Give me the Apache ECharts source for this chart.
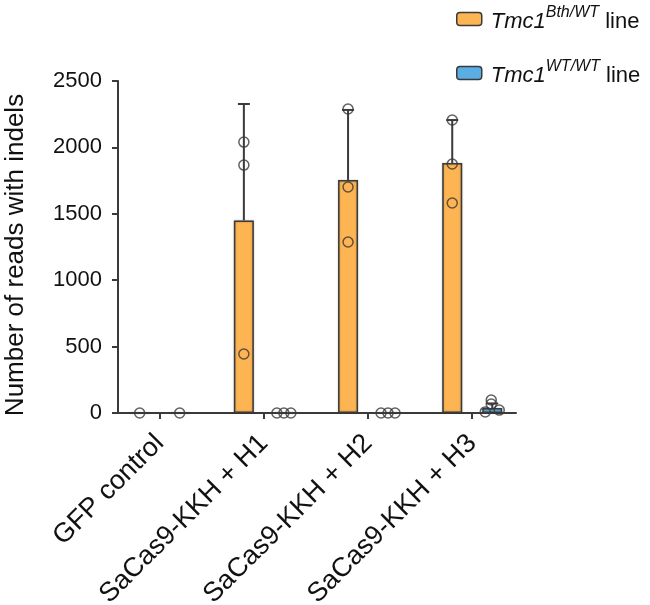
<!DOCTYPE html>
<html>
<head>
<meta charset="utf-8">
<script src="https://cdn.jsdelivr.net/npm/echarts@6/dist/echarts.min.js"></script>
<style>html,body{margin:0;padding:0;background:#fff}#c{width:650px;height:605px}</style>
</head>
<body>
<div id="c"></div>
<script>
// ---- data ----
const categories = ['GFP control', 'SaCas9-KKH + H1', 'SaCas9-KKH + H2', 'SaCas9-KKH + H3'];
const yTicks = [0, 500, 1000, 1500, 2000, 2500];
const bthMeans = [0, 1450, 1755, 1883];
const bthErrTop = [0, 2327, 2282, 2206];
const bthPoints = [[0], [2040, 1867, 444], [2289, 1702, 1288], [2206, 1875, 1581]];
const wtMeans = [0, 2, 2, 38];
const wtErrTop = [0, 2, 2, 72];
const wtPoints = [[0], [0, 0, 0], [0, 0, 0], [8, 98, 68, 22]];

// ---- styling / layout ----
const FONT = 'Liberation Sans, Arial, Helvetica, sans-serif';
const ORANGE = '#FDB452';
const BLUE = '#5AAEE3';
const DARK = '#3a3a3a';
const OFF = 0.192;               // half spacing between the two bars of a group (axis units)
const wtJitter = [[0], [-7, 0, 7], [-7, 0, 7], [-7, -1, -1, 7]];

function barData(vals, off) { return vals.map((v, i) => [i + off, v]); }
function errData(means, tops, off) { return means.map((m, i) => [i + off, m, tops[i]]); }
function ptData(pts, off, jit) {
  const out = [];
  pts.forEach((arr, i) => arr.forEach((v, k) => {
    out.push({ value: [i + off, v], symbolOffset: [jit ? jit[i][k] : 0, 0] });
  }));
  return out;
}
function errRender(params, api) {
  const x = api.value(0), y0 = api.value(1), y1 = api.value(2);
  if (!(y1 > y0 + 1)) return null;
  const p0 = api.coord([x, y0]);
  const p1 = api.coord([x, y1]);
  const st = { stroke: DARK, lineWidth: 2 };
  return {
    type: 'group',
    children: [
      { type: 'line', shape: { x1: p0[0], y1: p0[1], x2: p1[0], y2: p1[1] }, style: st },
      { type: 'line', shape: { x1: p1[0] - 6, y1: p1[1], x2: p1[0] + 6, y2: p1[1] }, style: st }
    ]
  };
}

const legendRich = {
  i: { fontFamily: FONT, fontStyle: 'italic', fontSize: 22, color: '#111', lineHeight: 28, verticalAlign: 'bottom' },
  s: { fontFamily: FONT, fontStyle: 'italic', fontSize: 16, color: '#111', lineHeight: 16, verticalAlign: 'top' },
  n: { fontFamily: FONT, fontSize: 22, color: '#111', lineHeight: 28, verticalAlign: 'bottom' }
};

const chart = echarts.init(document.getElementById('c'), null, { renderer: 'canvas' });
chart.setOption({
  animation: false,
  backgroundColor: '#fff',
  grid: { left: 118, top: 81, width: 398, height: 332, containLabel: false, outerBoundsMode: 'none' },
  legend: {
    orient: 'vertical',
    left: 456, top: 5, padding: 0,
    itemWidth: 25, itemHeight: 13, itemGap: 26,
    data: ['Bth', 'WT'],
    formatter: function (name) {
      return name === 'Bth' ? '{i|Tmc1}{s|Bth/WT}{n| line}' : '{i|Tmc1}{s|WT/WT}{n| line}';
    },
    textStyle: { rich: legendRich, padding: [0, 0, 0, 4] },
    itemStyle: { borderColor: DARK, borderWidth: 1.5 }
  },
  xAxis: {
    type: 'value', min: -0.4, max: 3.42,
    splitLine: { show: false },
    axisLine: { show: true, onZero: false, lineStyle: { color: DARK, width: 2 } },
    axisTick: { show: true, customValues: [0, 1, 2, 3], length: 6, lineStyle: { color: DARK, width: 2 } },
    axisLabel: {
      customValues: [0, 1, 2, 3], rotate: 45, margin: 26,
      fontFamily: FONT, fontSize: 27, color: '#111',
      formatter: v => categories[Math.round(v)]
    }
  },
  yAxis: {
    type: 'value', min: 0, max: 2500, interval: 500,
    name: 'Number of reads with indels', nameLocation: 'middle', nameGap: 89,
    nameTextStyle: { fontFamily: FONT, fontSize: 26, color: '#111', padding: [0, 16, 0, 0] },
    splitLine: { show: false },
    axisLine: { show: true, onZero: false, lineStyle: { color: DARK, width: 2 } },
    axisTick: { show: true, length: 6, lineStyle: { color: DARK, width: 2 } },
    axisLabel: { fontFamily: FONT, fontSize: 22, color: '#111', margin: 16,
      formatter: v => String(yTicks[yTicks.indexOf(v)]) }
  },
  series: [
    {
      name: 'Bth', type: 'bar', barWidth: 20, z: 2,
      data: barData(bthMeans, -OFF),
      itemStyle: { color: ORANGE, borderColor: DARK, borderWidth: 1.5, shadowColor: 'rgba(0,0,0,0.25)', shadowBlur: 2 }
    },
    {
      name: 'WT', type: 'bar', barWidth: 20, z: 2, barGap: '-100%',
      data: barData(wtMeans, OFF),
      itemStyle: { color: BLUE, borderColor: DARK, borderWidth: 1.5, shadowColor: 'rgba(0,0,0,0.25)', shadowBlur: 2 }
    },
    { type: 'custom', renderItem: errRender, data: errData(bthMeans, bthErrTop, -OFF), z: 3, silent: true },
    { type: 'custom', renderItem: errRender, data: errData(wtMeans, wtErrTop, OFF), z: 3, silent: true },
    {
      type: 'scatter', symbol: 'circle', symbolSize: 10, z: 4,
      data: ptData(bthPoints, -OFF, null),
      itemStyle: { color: 'rgba(255,255,255,0)', borderColor: DARK, borderWidth: 1.5 }
    },
    {
      type: 'scatter', symbol: 'circle', symbolSize: 10, z: 4,
      data: ptData(wtPoints, OFF, wtJitter),
      itemStyle: { color: 'rgba(255,255,255,0)', borderColor: DARK, borderWidth: 1.5 }
    }
  ]
});
</script>
</body>
</html>
